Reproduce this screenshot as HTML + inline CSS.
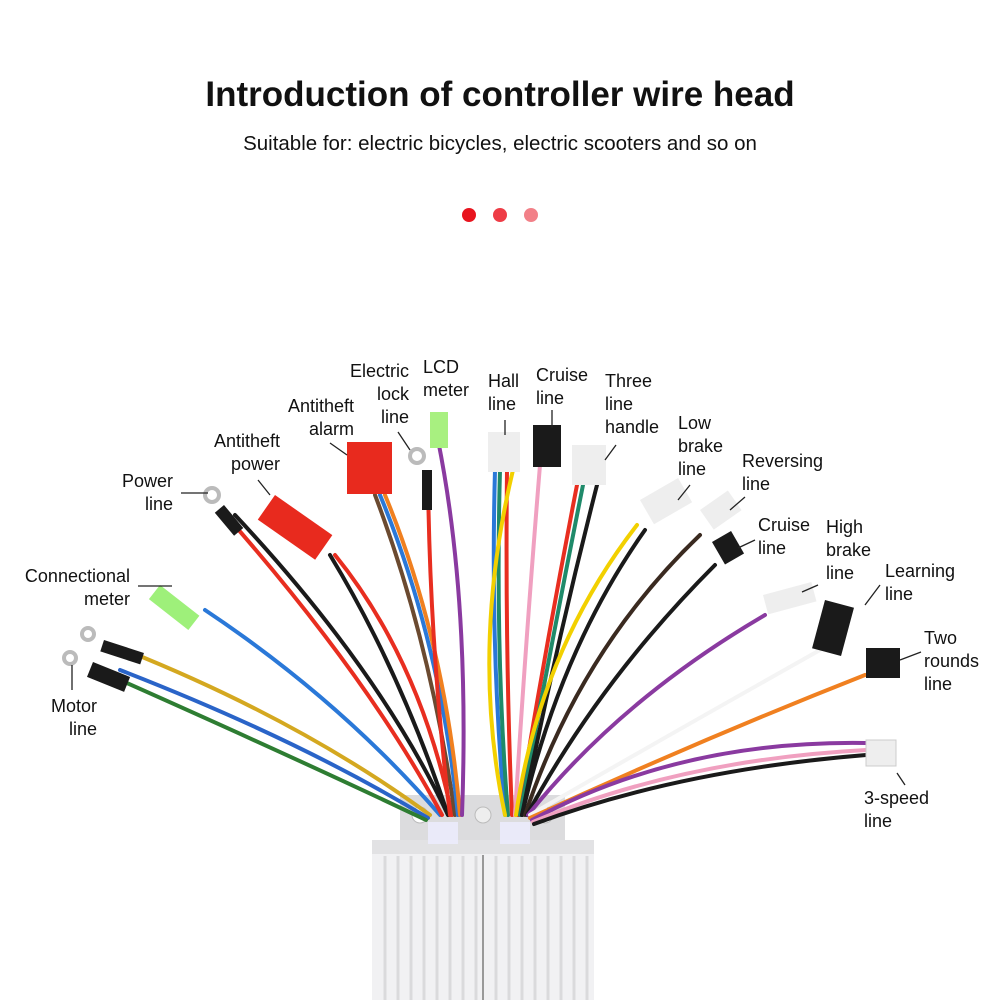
<!DOCTYPE html>
<html><head><meta charset="utf-8"><style>
html,body{margin:0;padding:0;background:#fff;width:1000px;height:1000px;overflow:hidden}
svg{display:block}
text{font-family:"Liberation Sans",Arial,sans-serif;fill:#111}
.l{font-size:18px}
.w{fill:none;stroke-width:4;stroke-linecap:round}
.k{stroke:#222;stroke-width:1.3;fill:none}
</style></head><body>
<svg width="1000" height="1000" viewBox="0 0 1000 1000">
<text x="500" y="106" text-anchor="middle" font-size="35" font-weight="bold">Introduction of controller wire head</text>
<text x="500" y="150" text-anchor="middle" font-size="20.5">Suitable for: electric bicycles, electric scooters and so on</text>
<circle cx="469" cy="215" r="7" fill="#e8141e"/><circle cx="500" cy="215" r="7" fill="#ee3c46"/><circle cx="531" cy="215" r="7" fill="#f28088"/>

<!-- controller -->
<rect x="400" y="795" width="165" height="60" fill="#dcdcde"/>
<circle cx="420" cy="815" r="8" fill="#fff" stroke="#bbb"/><circle cx="483" cy="815" r="8" fill="#eee" stroke="#bbb"/><circle cx="545" cy="815" r="8" fill="#fff" stroke="#bbb"/>
<rect x="372" y="840" width="222" height="160" fill="#f1f1f3"/>
<rect x="372" y="840" width="222" height="14" fill="#e2e2e4"/>
<g stroke="#dadadc" stroke-width="3">
<line x1="385" y1="856" x2="385" y2="1000"/><line x1="398" y1="856" x2="398" y2="1000"/><line x1="411" y1="856" x2="411" y2="1000"/><line x1="424" y1="856" x2="424" y2="1000"/><line x1="437" y1="856" x2="437" y2="1000"/><line x1="450" y1="856" x2="450" y2="1000"/><line x1="463" y1="856" x2="463" y2="1000"/><line x1="476" y1="856" x2="476" y2="1000"/><line x1="496" y1="856" x2="496" y2="1000"/><line x1="509" y1="856" x2="509" y2="1000"/><line x1="522" y1="856" x2="522" y2="1000"/><line x1="535" y1="856" x2="535" y2="1000"/><line x1="548" y1="856" x2="548" y2="1000"/><line x1="561" y1="856" x2="561" y2="1000"/><line x1="574" y1="856" x2="574" y2="1000"/><line x1="587" y1="856" x2="587" y2="1000"/>
</g>
<line x1="483" y1="855" x2="483" y2="1000" stroke="#999" stroke-width="2"/>
<rect x="428" y="822" width="30" height="22" fill="#eef" opacity=".8"/><rect x="500" y="822" width="30" height="22" fill="#eef" opacity=".8"/>

<!-- left wires -->
<path class="w" d="M125 650 Q300 720 430 815" stroke="#d4a820"/>
<path class="w" d="M120 670 Q300 740 428 818" stroke="#2a64c8"/>
<path class="w" d="M120 680 Q300 760 426 820" stroke="#2e7d32"/>
<path class="w" d="M205 610 Q340 700 440 815" stroke="#2a78d8"/>
<path class="w" d="M230 520 Q370 680 442 815" stroke="#e82e20"/>
<path class="w" d="M235 515 Q380 670 448 815" stroke="#1a1a1a"/>
<path class="w" d="M330 555 Q400 670 448 815" stroke="#1a1a1a"/>
<path class="w" d="M335 555 Q420 660 452 815" stroke="#e82e20"/>
<path class="w" d="M375 495 Q430 640 455 815" stroke="#6b4a30"/>
<path class="w" d="M380 495 Q440 640 458 815" stroke="#2a78d8"/>
<path class="w" d="M385 495 Q445 640 460 815" stroke="#f08020"/>
<path class="w" d="M428 480 Q430 650 450 815" stroke="#e82e20"/>
<path class="w" d="M438 440 Q470 600 462 815" stroke="#8a3aa0"/>
<!-- right wires -->
<path class="w" d="M495 470 Q490 650 505 815" stroke="#2a78d8"/>
<path class="w" d="M500 470 Q495 650 508 815" stroke="#1f8a6a"/>
<path class="w" d="M507 470 Q505 650 512 815" stroke="#e82e20"/>
<path class="w" d="M513 470 Q470 650 505 815" stroke="#f2d000"/>
<path class="w" d="M540 465 Q525 650 515 815" stroke="#f0a0c0"/>
<path class="w" d="M577 485 Q545 650 518 815" stroke="#e82e20"/>
<path class="w" d="M583 485 Q550 650 520 815" stroke="#1f8a6a"/>
<path class="w" d="M597 485 Q555 650 522 815" stroke="#1a1a1a"/>
<path class="w" d="M637 525 Q540 650 516 815" stroke="#f2d000"/>
<path class="w" d="M645 530 Q560 650 522 815" stroke="#1a1a1a"/>
<path class="w" d="M700 535 Q580 650 525 815" stroke="#3a2a20"/>
<path class="w" d="M715 565 Q600 680 527 815" stroke="#1a1a1a"/>
<path class="w" d="M765 615 Q620 700 528 815" stroke="#8a3aa0"/>
<path class="w" d="M820 650 Q660 740 530 815" stroke="#f4f4f4"/>
<path class="w" d="M865 675 Q700 740 530 818" stroke="#f08020"/>
<path class="w" d="M866 743 Q680 740 532 820" stroke="#8a3aa0"/>
<path class="w" d="M866 750 Q680 760 533 822" stroke="#f0a0c0"/>
<path class="w" d="M866 755 Q680 770 534 824" stroke="#1a1a1a"/>

<!-- connectors -->
<circle cx="88" cy="634" r="6" fill="none" stroke="#bbb" stroke-width="4"/><rect x="104" y="640" width="42" height="12" fill="#1a1a1a" transform="rotate(18 104 640)"/>
<circle cx="70" cy="658" r="6" fill="none" stroke="#bbb" stroke-width="4"/><rect x="93" y="662" width="40" height="16" fill="#1a1a1a" transform="rotate(22 93 662)"/>
<rect x="160" y="585" width="50" height="18" fill="#9ef07a" transform="rotate(38 160 585)"/>
<circle cx="212" cy="495" r="7" fill="none" stroke="#bbb" stroke-width="4"/><rect x="224" y="505" width="30" height="12" fill="#1a1a1a" transform="rotate(50 224 505)"/>
<rect x="275" y="495" width="70" height="30" fill="#e82a1e" transform="rotate(35 275 495)"/>
<rect x="347" y="442" width="45" height="52" fill="#e82a1e"/>
<circle cx="417" cy="456" r="7" fill="none" stroke="#bbb" stroke-width="4"/><rect x="422" y="470" width="10" height="40" fill="#1a1a1a"/>
<rect x="430" y="412" width="18" height="36" fill="#a8f080"/>
<rect x="488" y="432" width="32" height="40" fill="#eeeeee"/>
<rect x="533" y="425" width="28" height="42" fill="#1a1a1a"/>
<rect x="572" y="445" width="34" height="40" fill="#eeeeee"/>
<rect x="640" y="500" width="44" height="28" fill="#eeeeee" transform="rotate(-30 640 500)"/>
<rect x="700" y="510" width="34" height="24" fill="#eeeeee" transform="rotate(-35 700 510)"/>
<rect x="712" y="542" width="22" height="26" fill="#1a1a1a" transform="rotate(-30 712 542)"/>
<rect x="763" y="595" width="50" height="20" fill="#eeeeee" transform="rotate(-15 763 595)"/>
<rect x="825" y="600" width="30" height="50" fill="#1a1a1a" transform="rotate(15 825 600)"/>
<rect x="866" y="648" width="34" height="30" fill="#1a1a1a"/>
<rect x="866" y="740" width="30" height="26" fill="#eeeeee" stroke="#ccc"/>

<!-- leader lines -->
<path class="k" d="M181 493 L208 493 M138 586 L172 586 M72 665 L72 690 M258 480 L270 495 M330 443 L347 455 M398 432 L410 450 M505 420 L505 435 M552 410 L552 428 M616 445 L605 460 M690 485 L678 500 M745 497 L730 510 M755 540 L738 548 M818 585 L802 592 M880 585 L865 605 M921 652 L900 660 M897 773 L905 785"/>

<!-- labels -->
<g class="l">
<text x="173" y="487" text-anchor="end">Power</text><text x="173" y="510" text-anchor="end">line</text>
<text x="280" y="447" text-anchor="end">Antitheft</text><text x="280" y="470" text-anchor="end">power</text>
<text x="354" y="412" text-anchor="end">Antitheft</text><text x="354" y="435" text-anchor="end">alarm</text>
<text x="409" y="377" text-anchor="end">Electric</text><text x="409" y="400" text-anchor="end">lock</text><text x="409" y="423" text-anchor="end">line</text>
<text x="423" y="373">LCD</text><text x="423" y="396">meter</text>
<text x="488" y="387">Hall</text><text x="488" y="410">line</text>
<text x="536" y="381">Cruise</text><text x="536" y="404">line</text>
<text x="605" y="387">Three</text><text x="605" y="410">line</text><text x="605" y="433">handle</text>
<text x="678" y="429">Low</text><text x="678" y="452">brake</text><text x="678" y="475">line</text>
<text x="742" y="467">Reversing</text><text x="742" y="490">line</text>
<text x="758" y="531">Cruise</text><text x="758" y="554">line</text>
<text x="826" y="533">High</text><text x="826" y="556">brake</text><text x="826" y="579">line</text>
<text x="885" y="577">Learning</text><text x="885" y="600">line</text>
<text x="924" y="644">Two</text><text x="924" y="667">rounds</text><text x="924" y="690">line</text>
<text x="864" y="804">3-speed</text><text x="864" y="827">line</text>
<text x="130" y="582" text-anchor="end">Connectional</text><text x="130" y="605" text-anchor="end">meter</text>
<text x="97" y="712" text-anchor="end">Motor</text><text x="97" y="735" text-anchor="end">line</text>
</g>
</svg>
</body></html>
